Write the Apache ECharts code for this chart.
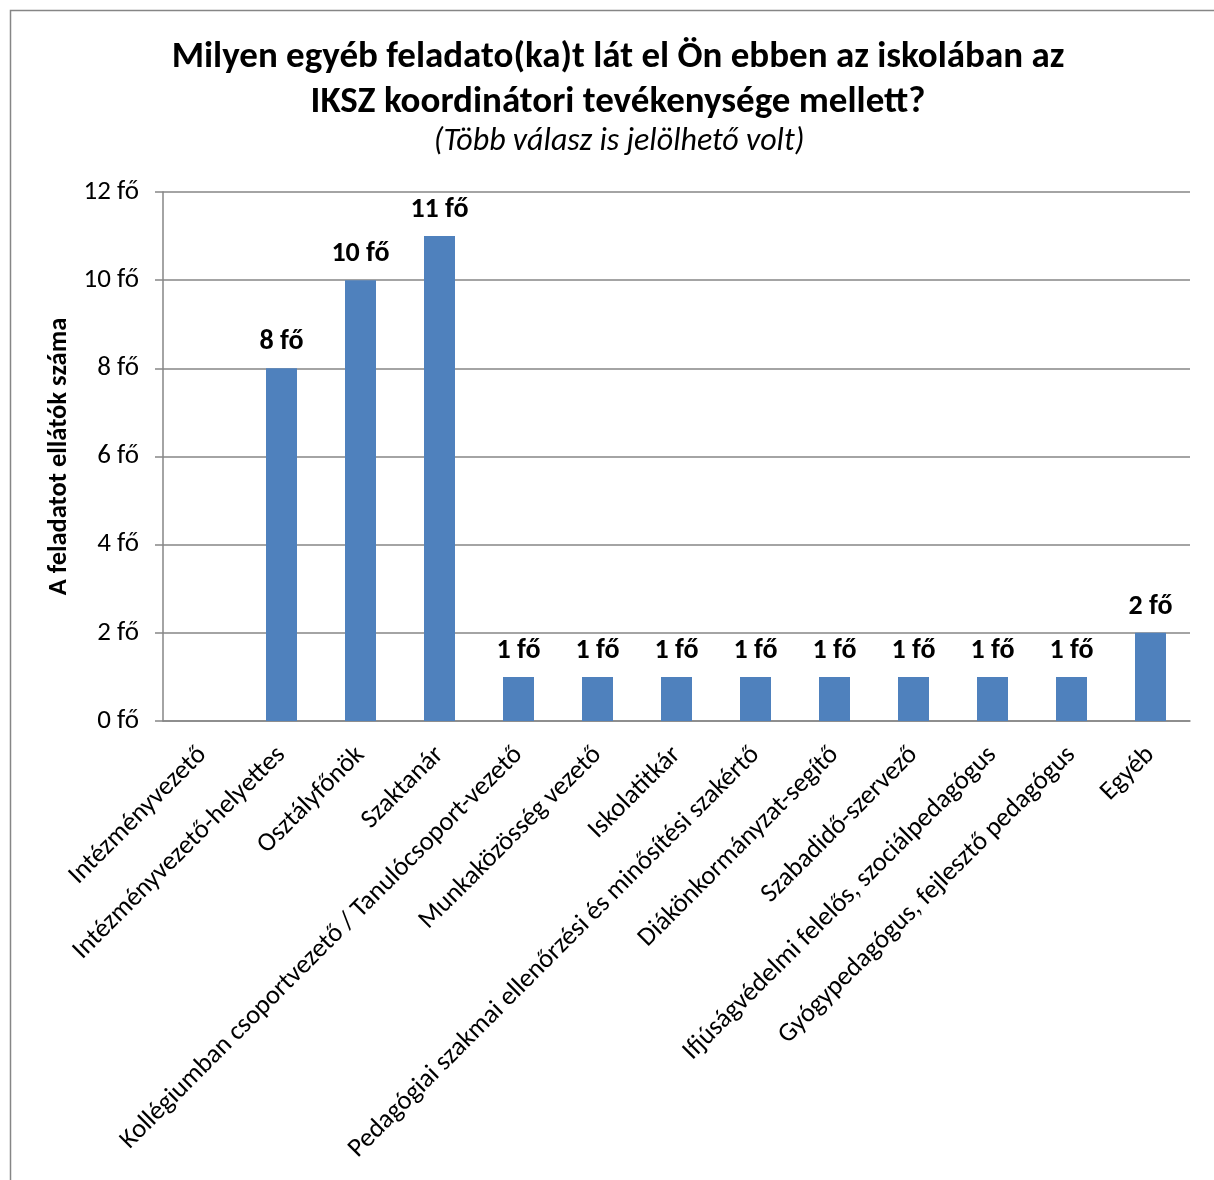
<!DOCTYPE html>
<html><head><meta charset="utf-8">
<script src="https://cdn.jsdelivr.net/npm/echarts@6/dist/echarts.min.js"></script>
<style>html,body{margin:0;padding:0;background:#fff}#c{width:1214px;height:1180px}</style>
</head><body><div id="c"></div>
<script>
const categories = ["Intézményvezető","Intézményvezető-helyettes","Osztályfőnök","Szaktanár","Kollégiumban csoportvezető / Tanulócsoport-vezető","Munkaközösség vezető","Iskolatitkár","Pedagógiai szakmai ellenőrzési és minősítési szakértő","Diákönkormányzat-segítő","Szabadidő-szervező","Ifjúságvédelmi felelős, szociálpedagógus","Gyógypedagógus, fejlesztő pedagógus","Egyéb"];
const values = [0, 8, 10, 11, 1, 1, 1, 1, 1, 1, 1, 1, 2];
const titleLines = ["Milyen egyéb feladato(ka)t lát el Ön ebben az iskolában az","IKSZ koordinátori tevékenysége mellett?"];
const subtitle = "(Több válasz is jelölhető volt)";
const yAxisName = "A feladatot ellátók száma";
const unit = " fő";
const FONT = "Carlito, Calibri, Lato, sans-serif";

const chart = echarts.init(document.getElementById('c'), null, {renderer:'canvas'});
chart.setOption({
  animation: false,
  backgroundColor: '#fff',
  textStyle: {fontFamily: FONT},
  graphic: [{type:'rect', left: 8, top: 8, shape:{width: 1230, height: 1200}, style:{fill:'none', stroke:'#868686', lineWidth:1.5}, silent:true}],
  title: [{
    text: titleLines.join('\n'), left: 613, top: 30, textAlign: 'center',
    textStyle: {fontFamily: FONT, fontSize: 37, fontWeight: 'bold', color: '#000', lineHeight: 45}
  },{
    text: subtitle, left: 614, top: 121, textAlign: 'center',
    textStyle: {fontFamily: FONT, fontSize: 32, fontStyle: 'italic', fontWeight: 'normal', color: '#000'}
  }],
  grid: {left: 163, right: 24, top: 192, bottom: 459, containLabel: false},
  xAxis: {
    type: 'category', data: categories,
    axisLine: {lineStyle: {color: '#868686', width: 1.5}},
    axisTick: {show: false},
    axisLabel: {interval: 0, rotate: 45, color: '#000', fontSize: 26.5, fontFamily: FONT, margin: 30}
  },
  yAxis: {
    type: 'value', min: 0, max: 12, interval: 2,
    name: yAxisName, nameLocation: 'middle', nameGap: 90, nameRotate: 90,
    nameTextStyle: {fontFamily: FONT, fontSize: 26.5, fontWeight: 'bold', color: '#000'},
    axisLine: {show: true, lineStyle: {color: '#868686', width: 1.5}},
    axisTick: {show: true, length: 8, lineStyle: {color: '#868686', width: 1.5}},
    splitLine: {lineStyle: {color: '#868686', width: 1.5}},
    axisLabel: {formatter: v => v + unit, color: '#000', fontSize: 27, fontFamily: FONT, margin: 24}
  },
  series: [{
    type: 'bar', data: values, barWidth: 31,
    itemStyle: {color: '#4F81BD'},
    label: {show: true, position: 'top', distance: 12, formatter: p => p.value ? p.value + unit : '',
      color: '#000', fontSize: 28, fontWeight: 'bold', fontFamily: FONT}
  }]
});
</script></body></html>
